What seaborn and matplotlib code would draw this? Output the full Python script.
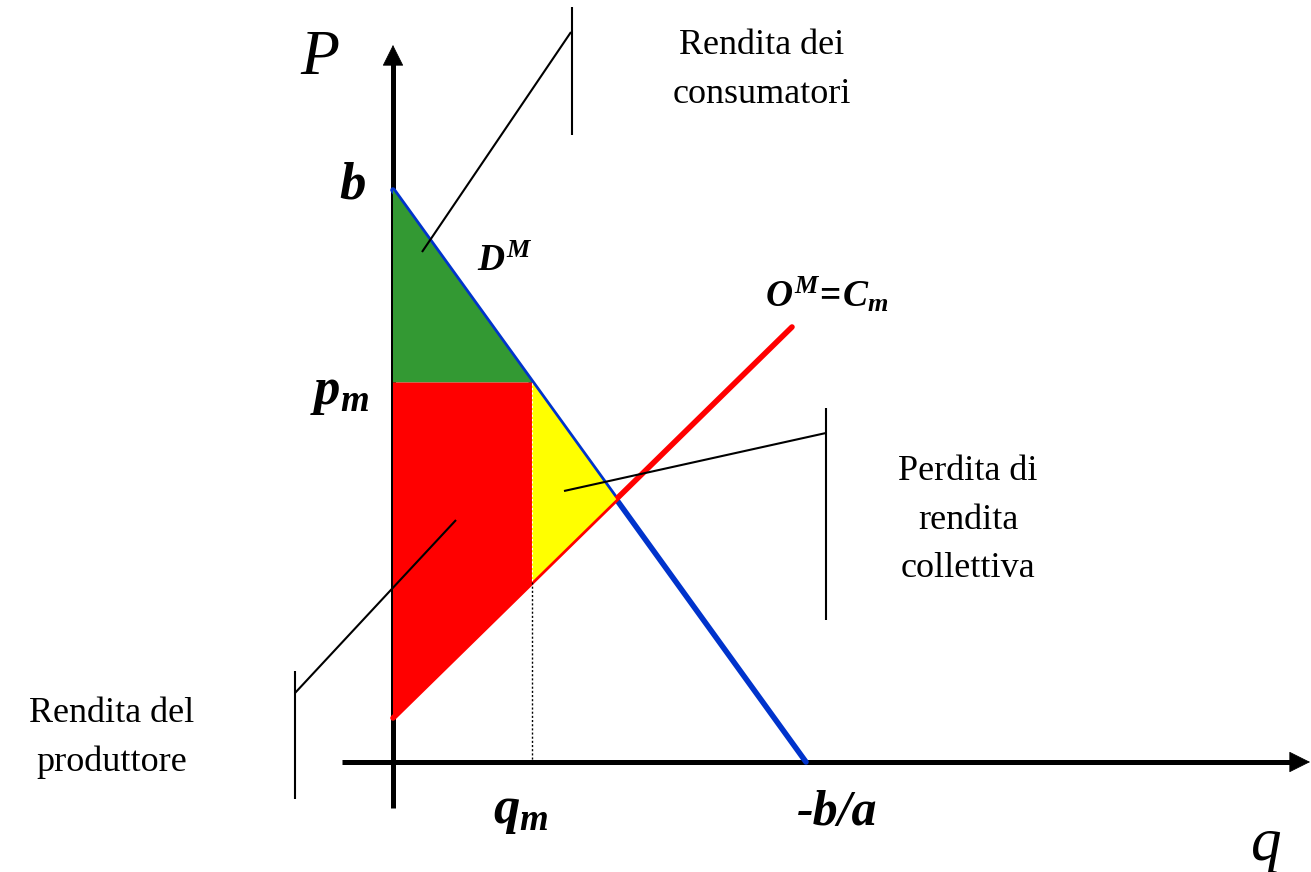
import matplotlib

matplotlib.use("Agg")
import matplotlib.pyplot as plt
import numpy as np
import pandas as pd
import seaborn as sns

# Model parameters (units: 1 unit = 100 px of the reference)
B = 5.72            # demand intercept b
Q_CHOKE = 4.13      # -b/a
C0 = 0.44           # supply (marginal cost) intercept
C_SLOPE = 0.98      # supply slope
Q_SUPPLY_END = 3.99
Q_M = 1.39          # monopoly quantity

# Annotation leader lines: (start, end) of the slanted leader + vertical bar
LEADERS = {
    "cons": {"diag": [(0.29, 5.10), (1.78, 7.30)], "bar": [(1.79, 7.55), (1.79, 6.27)]},
    "loss": {"diag": [(1.71, 2.71), (4.33, 3.29)], "bar": [(4.33, 3.54), (4.33, 1.42)]},
    "prod": {"diag": [(0.63, 2.42), (-0.98, 0.69)], "bar": [(-0.98, 0.91), (-0.98, -0.37)]},
}


def demand(q):
    return B - B / Q_CHOKE * q


def supply(q):
    return C0 + C_SLOPE * q


p_m = demand(Q_M)
s_m = supply(Q_M)
q_star = (B - C0) / (B / Q_CHOKE + C_SLOPE)
p_star = demand(q_star)

sns.set_theme(style="white")
plt.rcParams["font.family"] = ["Liberation Serif", "DejaVu Serif"]
plt.rcParams["text.color"] = "black"
plt.rcParams["mathtext.fontset"] = "custom"
plt.rcParams["mathtext.it"] = "Liberation Serif:italic:bold"
plt.rcParams["mathtext.rm"] = "Liberation Serif:bold"
plt.rcParams["mathtext.bf"] = "Liberation Serif:bold"
if "mathtext.bfit" in plt.rcParams:
    plt.rcParams["mathtext.bfit"] = "Liberation Serif:italic:bold"

fig = plt.figure(figsize=(13.11, 8.72), dpi=100)
ax = fig.add_axes([0, 0, 1, 1])

# axes with arrow heads
ax.plot([0, 0], [-0.46, 7.0], color="black", lw=3.6, solid_capstyle="butt", zorder=1)
ax.plot([-0.51, 9.0], [0, 0], color="black", lw=3.6, solid_capstyle="butt", zorder=1)
head_kw = dict(arrowstyle="-|>,head_length=0.7,head_width=0.35", lw=0.5,
               color="black", shrinkA=0, shrinkB=0, mutation_scale=20)
ax.annotate("", xy=(0, 7.17), xytext=(0, 6.5), arrowprops=head_kw, zorder=1)
ax.annotate("", xy=(9.17, 0), xytext=(8.5, 0), arrowprops=head_kw, zorder=1)

# demand and supply
dem = pd.DataFrame({"q": [0, Q_CHOKE], "p": [B, 0]})
sup = pd.DataFrame({"q": [0, Q_SUPPLY_END], "p": [C0, supply(Q_SUPPLY_END)]})
sns.lineplot(data=dem, x="q", y="p", ax=ax, color="#0033CC", lw=4.0, zorder=2)
sns.lineplot(data=sup, x="q", y="p", ax=ax, color="#FF0000", lw=4.0, zorder=2)
ax.set_xlim(-3.93, 9.18)
ax.set_ylim(-1.10, 7.62)
ax.axis("off")

# surplus areas
ax.fill([0, Q_M, 0], [B, p_m, p_m], color="#339933", lw=0, zorder=3)
ax.fill([0, Q_M, Q_M, 0], [p_m, p_m, s_m, C0], color="#FF0000", lw=0, zorder=3)
ax.fill([Q_M, q_star, Q_M], [p_m, p_star, s_m], color="#FFFF00", lw=0, zorder=3)
ax.plot([Q_M, Q_M], [p_m, s_m], color="white", lw=0.8, ls=(0, (2, 2)), zorder=4)
ax.plot([Q_M, Q_M], [s_m, 0], color="black", lw=1.0, ls=(0, (1.5, 1.5)), zorder=2)

# leaders
for item in LEADERS.values():
    for key in ("diag", "bar"):
        (x0, y0), (x1, y1) = item[key]
        ax.plot([x0, x1], [y0, y1], color="black", lw=1.5, zorder=5,
                solid_capstyle="butt")

# labels
ax.text(-0.73, 7.03, "P", fontsize=46, fontstyle="italic", ha="center", va="center")
ax.text(8.73, -0.83, "q", fontsize=44, fontstyle="italic", ha="center", va="center")
ax.text(-0.41, 5.77, "b", fontsize=38, fontstyle="italic", fontweight="bold",
        ha="center", va="center")
ax.text(-0.53, 3.69, r"$p_{m}$", fontsize=38, ha="center", va="center")
ax.text(1.28, -0.50, r"$q_{m}$", fontsize=38, ha="center", va="center")
ax.text(4.44, -0.51, "-b/a", fontsize=36, fontstyle="italic", fontweight="bold",
        ha="center", va="center")
ax.text(1.12, 5.00, r"$D^{M}$", fontsize=27, ha="center", va="center")
ax.text(4.34, 4.67, r"$O^{M}\!=\!C_{m}$", fontsize=27, ha="center", va="center")

ax.text(3.69, 6.92, "Rendita dei\nconsumatori", fontsize=26, ha="center",
        va="center", linespacing=1.62)
ax.text(5.75, 2.42, "Perdita di\nrendita\ncollettiva", fontsize=26, ha="center",
        va="center", linespacing=1.62)
ax.text(-2.81, 0.24, "Rendita del\nproduttore", fontsize=26, ha="center",
        va="center", linespacing=1.62)

fig.savefig("out.png", dpi=100)
